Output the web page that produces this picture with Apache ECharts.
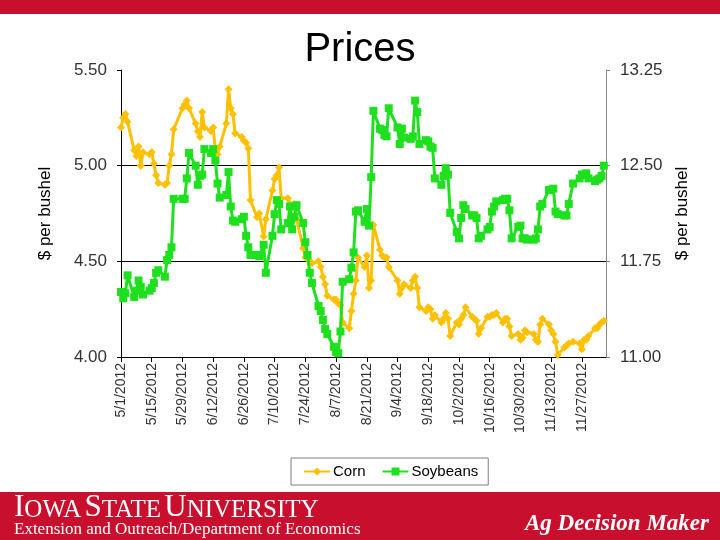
<!DOCTYPE html>
<html>
<head>
<meta charset="utf-8">
<script src="https://cdn.jsdelivr.net/npm/echarts@6.0.0/dist/echarts.min.js"></script>
<style>
  html, body { margin: 0; padding: 0; background: #fff; }
  #chart { width: 720px; height: 540px; }
</style>
</head>
<body>
<div id="chart"></div>
<script>
// trading days, 2012 (weekdays, exchange holidays skipped)
const tradeDates = [
  "5/1", "5/2", "5/3", "5/4",
  "5/7", "5/8", "5/9", "5/10", "5/11",
  "5/14", "5/15", "5/16", "5/17", "5/18",
  "5/21", "5/22", "5/23", "5/24", "5/25",
  "5/29", "5/30", "5/31", "6/1",
  "6/4", "6/5", "6/6", "6/7", "6/8",
  "6/11", "6/12", "6/13", "6/14", "6/15",
  "6/18", "6/19", "6/20", "6/21", "6/22",
  "6/25", "6/26", "6/27", "6/28", "6/29",
  "7/2", "7/3", "7/5", "7/6",
  "7/9", "7/10", "7/11", "7/12", "7/13",
  "7/16", "7/17", "7/18", "7/19", "7/20",
  "7/23", "7/24", "7/25", "7/26", "7/27",
  "7/30", "7/31", "8/1", "8/2", "8/3",
  "8/6", "8/7", "8/8", "8/9", "8/10",
  "8/13", "8/14", "8/15", "8/16", "8/17",
  "8/20", "8/21", "8/22", "8/23", "8/24",
  "8/27", "8/28", "8/29", "8/30", "8/31",
  "9/4", "9/5", "9/6", "9/7",
  "9/10", "9/11", "9/12", "9/13", "9/14",
  "9/17", "9/18", "9/19", "9/20", "9/21",
  "9/24", "9/25", "9/26", "9/27", "9/28",
  "10/1", "10/2", "10/3", "10/4", "10/5",
  "10/8", "10/9", "10/10", "10/11", "10/12",
  "10/15", "10/16", "10/17", "10/18", "10/19",
  "10/22", "10/23", "10/24", "10/25", "10/26",
  "10/29", "10/30", "10/31", "11/1", "11/2",
  "11/5", "11/6", "11/7", "11/8", "11/9",
  "11/12", "11/13", "11/14", "11/15", "11/16",
  "11/19", "11/20", "11/21", "11/23",
  "11/26", "11/27", "11/28", "11/29", "11/30",
  "12/3", "12/4", "12/5", "12/6", "12/7"
];

// $ per bushel, left axis
const corn = [
  5.20, 5.25, 5.27, 5.23,
  5.08, 5.05, 5.10, 5.00, 5.07,
  5.06, 5.07, 5.01, 4.95, 4.91,
  4.90, 4.91, 5.00, 5.06, 5.19,
  5.30, 5.32, 5.34, 5.30,
  5.22, 5.18, 5.15, 5.28, 5.20,
  5.18, 5.20, 5.08, 5.06, 5.10,
  5.22, 5.40, 5.30, 5.27, 5.17,
  5.15, 5.13, 5.12, 5.09, 4.82,
  4.73, 4.75, 4.63, 4.72,
  4.87, 4.93, 4.95, 4.99, 4.83,
  4.83, 4.80, 4.78, 4.80, 4.72,
  4.57, 4.52, 4.52, 4.50, 4.49,
  4.50, 4.47, 4.42, 4.38, 4.32,
  4.30, 4.30, 4.28, 4.27, 4.18,
  4.15, 4.24, 4.33, 4.40, 4.52,
  4.47, 4.53, 4.36, 4.40, 4.69,
  4.56, 4.53, 4.52, 4.52, 4.47,
  4.40, 4.33, 4.36, 4.38,
  4.36, 4.40, 4.42, 4.36, 4.26,
  4.24, 4.26, 4.25, 4.20, 4.22,
  4.18, 4.20, 4.23, 4.20, 4.11,
  4.18, 4.17, 4.20, 4.22, 4.26,
  4.21, 4.20, 4.19, 4.12, 4.15,
  4.21, 4.21, 4.22, 4.22, 4.23,
  4.18, 4.20, 4.20, 4.16, 4.11,
  4.12, 4.09, 4.10, 4.14, 4.13,
  4.12, 4.09, 4.08, 4.17, 4.20,
  4.17, 4.14, 4.12, 4.08, 4.01,
  4.05, 4.06, 4.07, 4.08,
  4.07, 4.04, 4.09, 4.09, 4.11,
  4.15, 4.15, 4.17, 4.18, 4.19
];

// $ per bushel, right axis
const soybeans = [
  11.51, 11.46, 11.50, 11.64,
  11.47, 11.52, 11.60, 11.55, 11.49,
  11.52, 11.54, 11.58, 11.66, 11.68,
  11.63, 11.76, 11.80, 11.86, 12.24,
  12.24, 12.24, 12.40, 12.60,
  12.50, 12.35, 12.42, 12.43, 12.63,
  12.60, 12.63, 12.54, 12.36, 12.25,
  12.27, 12.45, 12.18, 12.07, 12.06,
  12.08, 12.10, 11.95, 11.86, 11.80,
  11.80, 11.79, 11.88, 11.66,
  11.95, 12.12, 12.23, 12.20, 12.00,
  12.05, 12.18, 12.00, 12.10, 12.19,
  12.05, 11.90, 11.80, 11.66, 11.58,
  11.40, 11.36, 11.29, 11.22, 11.18,
  11.08, 11.04, 11.03, 11.20, 11.59,
  11.61, 11.70, 11.82, 12.14, 12.15,
  12.06, 12.16, 12.03, 12.41, 12.93,
  12.79, 12.78, 12.74, 12.73, 12.95,
  12.80, 12.67, 12.79, 12.72,
  12.71, 12.73, 13.01, 12.92, 12.67,
  12.70, 12.69, 12.65, 12.64, 12.40,
  12.35, 12.42, 12.48, 12.43, 12.13,
  11.98, 11.93, 12.09, 12.19, 12.16,
  12.11, 12.11, 12.09, 11.93, 11.95,
  12.00, 12.02, 12.14, 12.18, 12.22,
  12.23, 12.24, 12.24, 12.15, 11.93,
  12.02, 12.03, 11.93, 11.93, 11.92,
  11.92, 11.93, 12.00, 12.18, 12.20,
  12.31, 12.31, 12.32, 12.14, 12.12,
  12.11, 12.11, 12.20, 12.36,
  12.40, 12.43, 12.43, 12.44, 12.40,
  12.38, 12.39, 12.40, 12.42, 12.50
];

const leftTicks = [4.0, 4.5, 5.0, 5.5];
const rightTicks = [11.0, 11.75, 12.5, 13.25];

const YEAR = 2012;
const START = Date.UTC(YEAR, 4, 1);
const DAY = 86400000;

// day offset from 5/1 for a "m/d" string
const dayOf = (s) => {
  const [m, d] = s.split("/").map(Number);
  return Math.round((Date.UTC(YEAR, m - 1, d) - START) / DAY);
};
const dayLabel = (v) => {
  const dt = new Date(START + v * DAY);
  return `${dt.getUTCMonth() + 1}/${dt.getUTCDate()}/${dt.getUTCFullYear()}`;
};

const days = tradeDates.map(dayOf);
const cornColor = "#FFC000";
const soyColor = "#1EE01E";

const chart = echarts.init(document.getElementById("chart"));

const axisFont = { color: "#333", fontSize: 17, fontFamily: "Liberation Sans" };

chart.setOption({
  backgroundColor: "#fff",
  animation: false,
  title: {
    text: "Prices",
    left: "center",
    top: 25,
    textStyle: { fontSize: 40, fontWeight: "normal", color: "#000", fontFamily: "Liberation Sans" }
  },
  grid: { left: 121, right: 114, top: 70, bottom: 183, containLabel: false },
  legend: {
    left: 291,
    top: 458,
    data: ["Corn", "Soybeans"],
    borderColor: "#7f7f7f",
    borderWidth: 1,
    padding: [6, 10, 6, 12],
    itemWidth: 26,
    itemHeight: 10,
    itemGap: 16,
    textStyle: { fontSize: 15, color: "#000", fontFamily: "Liberation Sans", padding: [0, 0, 0, -2] }
  },
  xAxis: {
    type: "value",
    min: 0,
    max: 221,
    interval: 14,
    axisLine: { show: true, lineStyle: { color: "#000", width: 1 } },
    axisTick: { show: true, length: 5, lineStyle: { color: "#000" } },
    splitLine: { show: false },
    axisLabel: {
      rotate: 90,
      margin: 6,
      showMaxLabel: false,
      color: "#333",
      fontSize: 14,
      fontFamily: "Liberation Sans",
      formatter: (v) => (v % 14 === 0 ? dayLabel(v) : "")
    }
  },
  yAxis: [
    {
      type: "value",
      min: leftTicks[0],
      max: leftTicks[leftTicks.length - 1],
      interval: 0.5,
      name: "$ per bushel",
      nameLocation: "middle",
      nameGap: 67,
      nameTextStyle: { fontSize: 17, color: "#000", fontFamily: "Liberation Sans" },
      axisLine: { show: true, lineStyle: { color: "#000", width: 1 } },
      axisTick: { show: true, length: 4, lineStyle: { color: "#000" } },
      splitLine: { show: true, showMinLine: false, showMaxLine: false, lineStyle: { color: "#000", width: 1 } },
      axisLabel: Object.assign({ margin: 14, formatter: (v) => v.toFixed(2) }, axisFont)
    },
    {
      type: "value",
      min: rightTicks[0],
      max: rightTicks[rightTicks.length - 1],
      interval: 0.75,
      position: "right",
      name: "$ per bushel",
      nameLocation: "middle",
      nameGap: 64,
      nameRotate: 90,
      nameTextStyle: { fontSize: 17, color: "#000", fontFamily: "Liberation Sans" },
      axisLine: { show: true, lineStyle: { color: "#868686", width: 1 } },
      axisTick: { show: true, length: 4, lineStyle: { color: "#868686" } },
      splitLine: { show: false },
      axisLabel: Object.assign({ margin: 14, formatter: (v) => v.toFixed(2) }, axisFont)
    }
  ],
  series: [
    {
      name: "Corn",
      type: "line",
      yAxisIndex: 0,
      data: days.map((d, i) => [d, corn[i]]),
      symbol: "diamond",
      symbolSize: 8,
      lineStyle: { color: cornColor, width: 3 },
      itemStyle: { color: cornColor },
      z: 3
    },
    {
      name: "Soybeans",
      type: "line",
      yAxisIndex: 1,
      data: days.map((d, i) => [d, soybeans[i]]),
      symbol: "rect",
      symbolSize: 8,
      lineStyle: { color: soyColor, width: 3 },
      itemStyle: { color: soyColor },
      z: 4
    }
  ],
  graphic: [
    { type: "rect", left: 0, top: 0, shape: { width: 720, height: 14 }, style: { fill: "#C8102E" } },
    { type: "rect", left: 0, top: 492, shape: { width: 720, height: 48 }, style: { fill: "#C8102E" } },
    {
      type: "text",
      left: 14,
      top: 492,
      style: {
        text: "{b|I}{s|OWA} {b|S}{s|TATE} {b|U}{s|NIVERSITY}",
        fill: "#fff",
        rich: {
          b: { fontSize: 31, fontFamily: "Liberation Serif", fill: "#fff" },
          s: { fontSize: 25, fontFamily: "Liberation Serif", fill: "#fff", verticalAlign: "bottom" }
        }
      }
    },
    {
      type: "text",
      left: 14,
      top: 521,
      style: { text: "Extension and Outreach/Department of Economics", fill: "#fff", fontSize: 17, fontFamily: "Liberation Serif" }
    },
    {
      type: "text",
      right: 11,
      top: 513,
      style: { text: "Ag Decision Maker", fill: "#fff", fontSize: 23, fontStyle: "italic", fontWeight: "bold", fontFamily: "Liberation Serif" }
    }
  ]
});
</script>
</body>
</html>
